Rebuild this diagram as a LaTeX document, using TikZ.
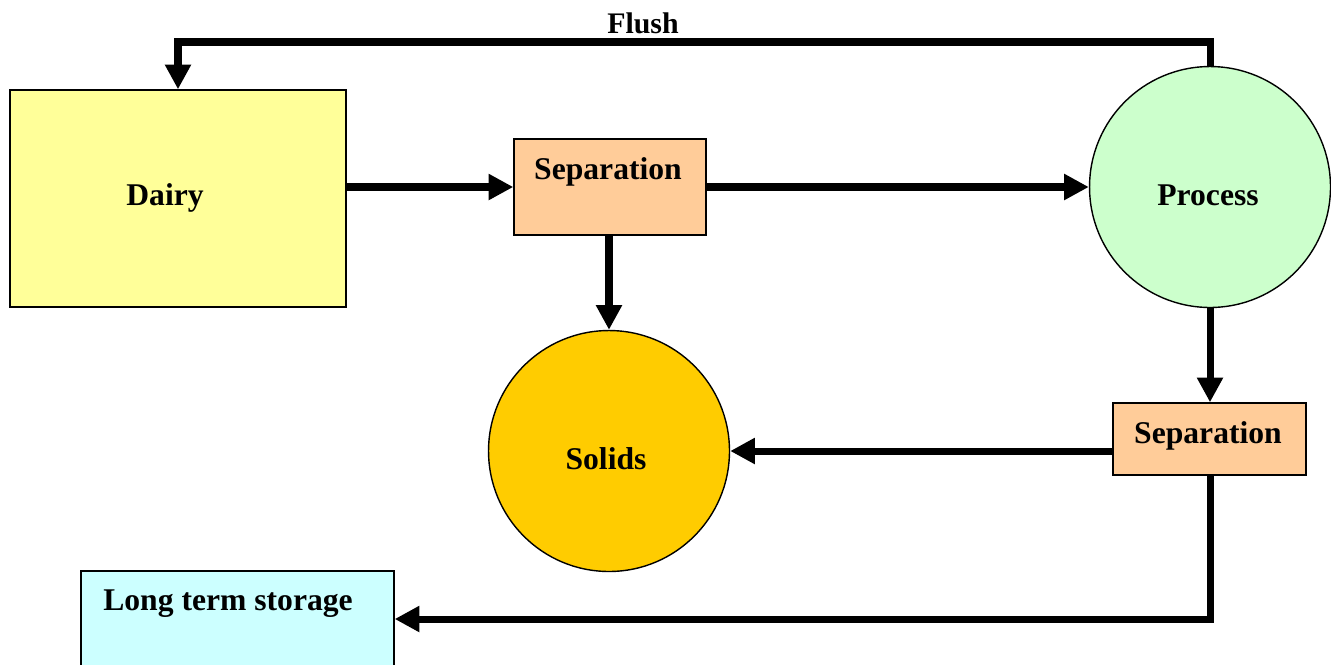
\documentclass[tikz,border=0pt]{standalone}
\usepackage{fontspec}
\setmainfont{Liberation Serif}
\usetikzlibrary{arrows.meta}

\definecolor{dairyfill}{HTML}{FFFF99}
\definecolor{sepfill}{HTML}{FFCC99}
\definecolor{procfill}{HTML}{CCFFCC}
\definecolor{solidfill}{HTML}{FFCC00}
\definecolor{storefill}{HTML}{CCFFFF}

\begin{document}
\begin{tikzpicture}[x=0.02cm,y=-0.02cm,
    flow/.style={line width=4pt,-{Triangle[length=14pt,width=14pt]}},
    box/.style={draw,line width=0.8pt,inner sep=0pt},
    tank/.style={circle,draw,line width=0.8pt,inner sep=0pt,minimum size=4.82cm},
    lbl/.style={font=\fontsize{18}{20}\selectfont\bfseries}]

\clip (0,0) rectangle (1331,664);

% draw the boxes and tanks
\node[box,fill=dairyfill,minimum width=6.72cm,minimum height=4.34cm] (dairy) at (178,198.5) {};
\node[box,fill=sepfill,minimum width=3.84cm,minimum height=1.92cm] (sep1) at (610,187) {};
\node[tank,fill=procfill] (process) at (1210,187) {};
\node[tank,fill=solidfill] (solids) at (609,451) {};
\node[box,fill=sepfill,minimum width=3.86cm,minimum height=1.44cm] (sep2) at (1209.5,439) {};
\node[box,fill=storefill,minimum width=6.26cm,minimum height=1.92cm] (store) at (237.5,619) {};

% place the texts
\node[lbl] (dairy-txt) at (165,198) {Dairy};
\node[lbl] (sep1-txt) at (608,172) {Separation};
\node[lbl] (process-txt) at (1208,195) {Process};
\node[lbl] (solids-txt) at (606,459) {Solids};
\node[lbl] (sep2-txt) at (1208,436) {Separation};
\node[lbl] (store-txt) at (228,604) {Long term storage};

% draw the flows between nodes
\draw[flow] (dairy.east |- sep1.west) -- (sep1.west);
\draw[flow] (sep1.east) -- (process.west);
\draw[flow] (solids.north |- sep1.south) -- (solids.north);
\draw[flow] (process.south) -- (process.south |- sep2.north);
\draw[flow] (sep2.west |- solids.east) -- (solids.east);
\draw[flow] (process.south |- sep2.south) |- (store.east);

% draw the flush line back to the dairy
\draw[flow] (process.north) -- (process.north |- 0,42) -| (dairy.north);
\node[lbl,font=\fontsize{17}{20}\selectfont\bfseries] (flush) at (643,23) {Flush};

\end{tikzpicture}
\end{document}
